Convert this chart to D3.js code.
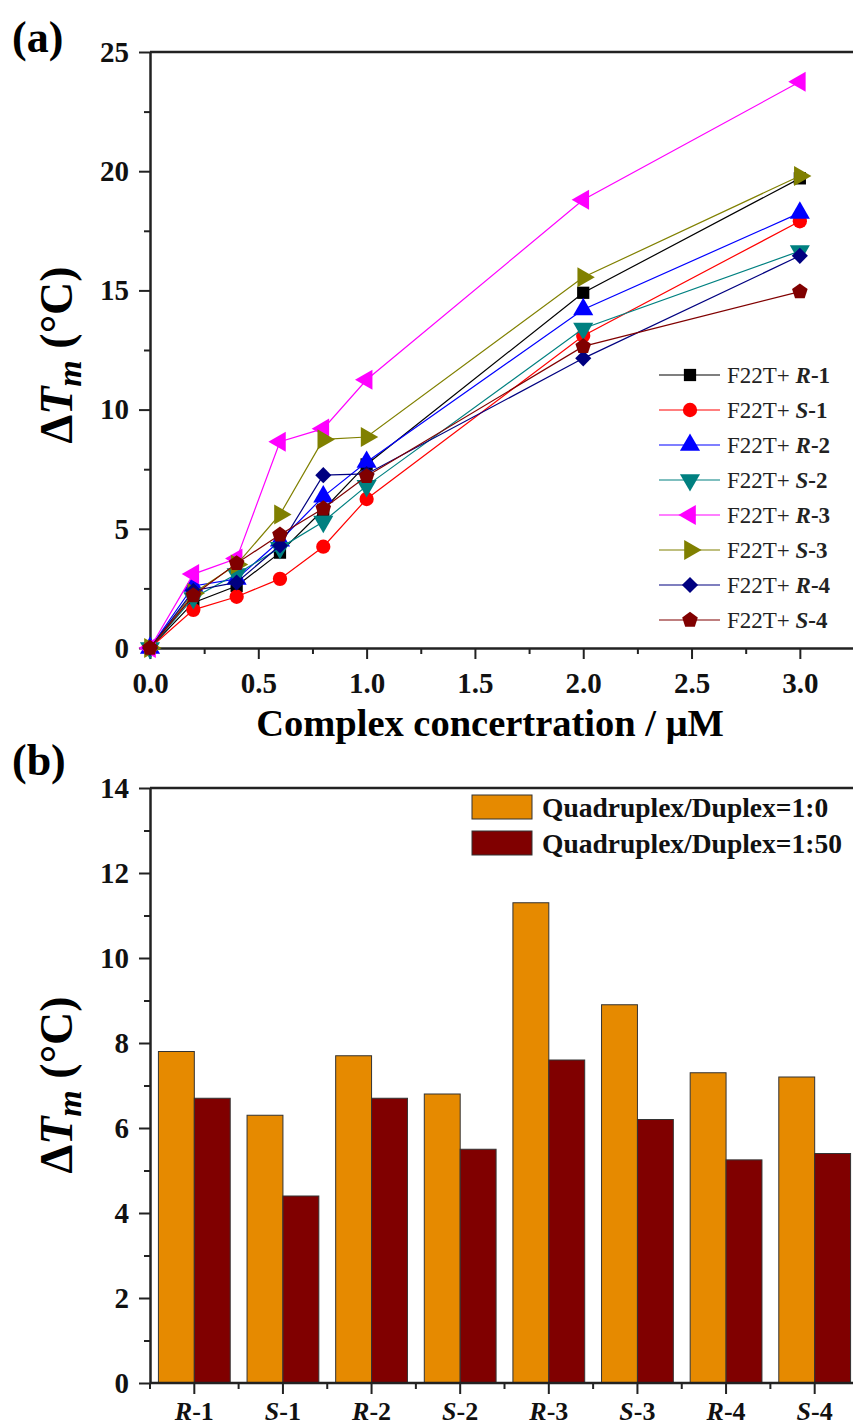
<!DOCTYPE html>
<html>
<head>
  <meta charset="UTF-8">
  <title>Tm shift</title>
  <script src="https://d3js.org/d3.v7.min.js"></script>
  <style>
    body { margin: 0; background: #fff; }
    text { font-family: "Liberation Serif", "Times New Roman", serif; }
  </style>
</head>
<body>
  <svg width="853" height="1425"></svg>

  <script>
    // panel (a) data: concentration (uM) vs delta Tm
    const concentrations = [0, 0.2, 0.4, 0.6, 0.8, 1.0, 2.0, 3.0];
    const seriesNames = ["R-1", "S-1", "R-2", "S-2", "R-3", "S-3", "R-4", "S-4"];
    const r1 = [0, 1.9, 2.6, 4.0, 5.8, 7.7, 14.9, 19.7];
    const s1 = [0, 1.6, 2.15, 2.9, 4.25, 6.25, 13.1, 17.9];
    const r2 = [0, 2.6, 2.9, 4.5, 6.35, 7.8, 14.2, 18.25];
    const s2 = [0, 2.1, 3.1, 4.2, 5.3, 6.8, 13.4, 16.65];
    const r3 = [0, 3.1, 3.75, 8.65, 9.2, 11.25, 18.8, 23.75];
    const s3 = [0, 2.3, 3.5, 5.6, 8.75, 8.85, 15.55, 19.8];
    const r4 = [0, 2.4, 2.75, 4.3, 7.25, 7.3, 12.15, 16.45];
    const s4 = [0, 2.2, 3.55, 4.75, 5.85, 7.2, 12.65, 14.95];
    const xTicksA = [0, 0.5, 1.0, 1.5, 2.0, 2.5, 3.0];
    const yTicksA = [0, 5, 10, 15, 20, 25];

    // panel (b) data
    const compounds = ["R-1", "S-1", "R-2", "S-2", "R-3", "S-3", "R-4", "S-4"];
    const ratio10 = [7.8, 6.3, 7.7, 6.8, 11.3, 8.9, 7.3, 7.2];
    const ratio150 = [6.7, 4.4, 6.7, 5.5, 7.6, 6.2, 5.25, 5.4];
    const barLabels = ["Quadruplex/Duplex=1:0", "Quadruplex/Duplex=1:50"];
    const yTicksB = [0, 2, 4, 6, 8, 10, 12, 14];

    const svg = d3.select("svg");

    // pentagon symbol, d3 has none
    const symbolPentagon = {
      draw(ctx, size) {
        const r = Math.sqrt(size / 2.378);
        for (let i = 0; i < 5; i++) {
          const a = -Math.PI / 2 + i * 2 * Math.PI / 5;
          if (i === 0) ctx.moveTo(r * Math.cos(a), r * Math.sin(a));
          else ctx.lineTo(r * Math.cos(a), r * Math.sin(a));
        }
        ctx.closePath();
      }
    };

    const series = [
      { name: seriesNames[0], values: r1, color: "#000000", sym: d3.symbolSquare, rot: 0, size: 150 },
      { name: seriesNames[1], values: s1, color: "#ff0000", sym: d3.symbolCircle, rot: 0, size: 160 },
      { name: seriesNames[2], values: r2, color: "#0000ff", sym: d3.symbolTriangle, rot: 0, size: 175 },
      { name: seriesNames[3], values: s2, color: "#008080", sym: d3.symbolTriangle, rot: 180, size: 175 },
      { name: seriesNames[4], values: r3, color: "#ff00ff", sym: d3.symbolTriangle, rot: -90, size: 175 },
      { name: seriesNames[5], values: s3, color: "#808000", sym: d3.symbolTriangle, rot: 90, size: 175 },
      { name: seriesNames[6], values: r4, color: "#000080", sym: d3.symbolSquare, rot: 45, size: 130 },
      { name: seriesNames[7], values: s4, color: "#800000", sym: symbolPentagon, rot: 0, size: 160 }
    ];

    function styleAxis(g) {
      g.select(".domain").attr("stroke", "#222").attr("stroke-width", 2.5);
      g.selectAll(".tick line").attr("stroke", "#222").attr("stroke-width", 2);
      g.selectAll(".tick text")
        .attr("fill", "#111")
        .attr("font-size", 29)
        .attr("font-weight", "bold")
        .style("font-family", "Liberation Serif");
    }

    // ---------- panel (a) ----------
    const x = d3.scaleLinear().domain([0, 3.25]).range([150, 854]);
    const y = d3.scaleLinear().domain([0, 25]).range([648, 52]);

    svg.append("line")
      .attr("x1", x(0)).attr("x2", 853)
      .attr("y1", y(25)).attr("y2", y(25))
      .attr("stroke", "#222").attr("stroke-width", 2.5);

    svg.append("g")
      .attr("transform", `translate(0,${y(0)})`)
      .call(d3.axisBottom(x).tickValues([0.25, 0.75, 1.25, 1.75, 2.25, 2.75]).tickSize(6).tickFormat(""))
      .call(g => g.select(".domain").remove())
      .call(styleAxis);
    svg.append("g")
      .attr("transform", `translate(0,${y(0)})`)
      .call(d3.axisBottom(x).tickValues(xTicksA).tickFormat(d3.format(".1f")).tickSize(11).tickPadding(13).tickSizeOuter(0))
      .call(styleAxis);

    svg.append("g")
      .attr("transform", `translate(${x(0)},0)`)
      .call(d3.axisLeft(y).tickValues([2.5, 7.5, 12.5, 17.5, 22.5]).tickSize(6).tickFormat(""))
      .call(g => g.select(".domain").remove())
      .call(styleAxis);
    svg.append("g")
      .attr("transform", `translate(${x(0)},0)`)
      .call(d3.axisLeft(y).tickValues(yTicksA).tickSize(11).tickPadding(10).tickSizeOuter(0))
      .call(styleAxis);

    const line = d3.line().x((d, i) => x(concentrations[i])).y(d => y(d));

    const sg = svg.append("g").selectAll("g").data(series).join("g");
    sg.append("path")
      .attr("d", d => line(d.values))
      .attr("fill", "none")
      .attr("stroke", d => d.color)
      .attr("stroke-width", 1.2);
    sg.selectAll("path.pt")
      .data(d => d.values.map((v, i) => ({ v, i, s: d })))
      .join("path")
      .attr("class", "pt")
      .attr("d", d => d3.symbol(d.s.sym, d.s.size)())
      .attr("fill", d => d.s.color)
      .attr("transform", d => `translate(${x(concentrations[d.i])},${y(d.v)}) rotate(${d.s.rot})`);

    // legend (a)
    const leg = svg.append("g").selectAll("g").data(series).join("g")
      .attr("transform", (d, i) => `translate(659,${375 + i * 35})`);
    leg.append("line")
      .attr("x1", 0).attr("x2", 61)
      .attr("stroke", d => d.color).attr("stroke-width", 1.2);
    leg.append("path")
      .attr("d", d => d3.symbol(d.sym, d.size)())
      .attr("fill", d => d.color)
      .attr("transform", d => `translate(31,0) rotate(${d.rot})`);
    const lt = leg.append("text")
      .attr("x", 68).attr("y", 8)
      .attr("font-size", 23).attr("fill", "#222");
    lt.append("tspan").text("F22T+ ");
    lt.append("tspan").attr("font-weight", "bold").attr("font-style", "italic").text(d => d.name.split("-")[0]);
    lt.append("tspan").attr("font-weight", "bold").text(d => "-" + d.name.split("-")[1]);

    // titles (a)
    svg.append("text").attr("x", 12).attr("y", 52)
      .attr("font-size", 44).attr("font-weight", "bold").text("(a)");

    svg.append("text")
      .attr("x", 490).attr("y", 736)
      .attr("text-anchor", "middle")
      .attr("font-size", 38.5).attr("font-weight", "bold")
      .text("Complex concertration / \u03bcM");

    function yTitle(cx, cy) {
      const t = svg.append("text")
        .attr("transform", `translate(${cx},${cy}) rotate(-90)`)
        .attr("text-anchor", "middle")
        .attr("font-size", 46).attr("font-weight", "bold");
      t.append("tspan").text("\u0394");
      t.append("tspan").attr("font-style", "italic").text("T");
      t.append("tspan").attr("font-style", "italic").attr("font-size", 34).attr("dy", 9).text("m");
      t.append("tspan").attr("dy", -9).text(" (\u00b0C)");
    }
    yTitle(72, 355);

    // ---------- panel (b) ----------
    const xb = d3.scaleBand().domain(compounds).range([150, 859]).paddingInner(0.19).paddingOuter(0.095);
    const yb = d3.scaleLinear().domain([0, 14]).range([1383, 788]);
    const barColors = ["#e68a00", "#800000"];

    svg.append("line")
      .attr("x1", 150).attr("x2", 853)
      .attr("y1", yb(14)).attr("y2", yb(14))
      .attr("stroke", "#222").attr("stroke-width", 2.5);

    const bw = xb.bandwidth() / 2;
    const grp = svg.append("g").selectAll("g").data(compounds).join("g")
      .attr("transform", d => `translate(${xb(d)},0)`);
    grp.append("rect")
      .attr("x", 0).attr("width", bw)
      .attr("y", (d, i) => yb(ratio10[i]))
      .attr("height", (d, i) => yb(0) - yb(ratio10[i]))
      .attr("fill", barColors[0]).attr("stroke", "#333").attr("stroke-width", 1);
    grp.append("rect")
      .attr("x", bw).attr("width", bw)
      .attr("y", (d, i) => yb(ratio150[i]))
      .attr("height", (d, i) => yb(0) - yb(ratio150[i]))
      .attr("fill", barColors[1]).attr("stroke", "#333").attr("stroke-width", 1);

    // y axis (b)
    svg.append("g")
      .attr("transform", "translate(150,0)")
      .call(d3.axisLeft(yb).tickValues([1, 3, 5, 7, 9, 11, 13]).tickSize(6).tickFormat(""))
      .call(g => g.select(".domain").remove())
      .call(styleAxis);
    svg.append("g")
      .attr("transform", "translate(150,0)")
      .call(d3.axisLeft(yb).tickValues(yTicksB).tickSize(11).tickPadding(10).tickSizeOuter(0))
      .call(styleAxis);

    // x axis (b)
    const xAxisB = svg.append("g").attr("transform", `translate(0,${yb(0)})`);
    xAxisB.append("line").attr("x1", 150).attr("x2", 853)
      .attr("stroke", "#222").attr("stroke-width", 2.5);
    const minorB = [150].concat(compounds.slice(0, -1).map(c => xb(c) + xb.bandwidth() / 2 + xb.step() / 2));
    xAxisB.selectAll("line.minor").data(minorB).join("line")
      .attr("class", "minor")
      .attr("x1", d => d).attr("x2", d => d).attr("y1", 0).attr("y2", 6)
      .attr("stroke", "#222").attr("stroke-width", 2);
    xAxisB.selectAll("line.major").data(compounds).join("line")
      .attr("class", "major")
      .attr("x1", d => xb(d) + bw).attr("x2", d => xb(d) + bw).attr("y1", 0).attr("y2", 11)
      .attr("stroke", "#222").attr("stroke-width", 2);
    const xl = xAxisB.selectAll("text").data(compounds).join("text")
      .attr("x", d => xb(d) + bw).attr("y", 37)
      .attr("text-anchor", "middle")
      .attr("font-size", 26).attr("font-weight", "bold").attr("fill", "#111");
    xl.append("tspan").attr("font-style", "italic").text(d => d.split("-")[0]);
    xl.append("tspan").text(d => "-" + d.split("-")[1]);

    // legend (b)
    const legB = svg.append("g").selectAll("g").data(barLabels).join("g")
      .attr("transform", (d, i) => `translate(472,${795 + i * 36})`);
    legB.append("rect")
      .attr("width", 60).attr("height", 24)
      .attr("fill", (d, i) => barColors[i]).attr("stroke", "#333").attr("stroke-width", 1);
    legB.append("text")
      .attr("x", 70).attr("y", 22)
      .attr("font-size", 27.5).attr("font-weight", "bold").attr("fill", "#111")
      .text(d => d);

    svg.append("text").attr("x", 12).attr("y", 775)
      .attr("font-size", 44).attr("font-weight", "bold").text("(b)");
    yTitle(72, 1085);
  </script>
</body>
</html>
